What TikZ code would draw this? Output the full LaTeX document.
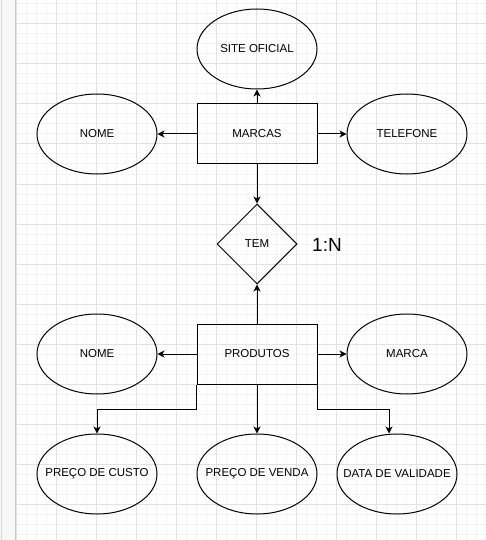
\documentclass[tikz,border=0pt]{standalone}
\usepackage{fontspec}
\setmainfont{Liberation Sans}
\usepackage{tikz}
\usetikzlibrary{shapes,arrows.meta}
\definecolor{gridminor}{HTML}{F4F4F4}
\definecolor{gridmajor}{HTML}{E2E2E2}
\tikzstyle{entity}=[rectangle,draw,line width=1pt,minimum width=120pt,minimum height=60pt,inner sep=0pt,font=\fontsize{11.5}{14}\selectfont]
\tikzstyle{attribute}=[ellipse,draw,line width=1pt,minimum width=120pt,minimum height=80pt,inner sep=0pt,font=\fontsize{11.5}{14}\selectfont]
\tikzstyle{relation}=[diamond,draw,line width=1pt,minimum width=80pt,minimum height=80pt,inner sep=0pt,font=\fontsize{11.5}{14}\selectfont]
\tikzstyle{link}=[-{Stealth[length=7pt,width=7pt,inset=2pt]},line width=1pt]

\begin{document}
\begin{tikzpicture}[x=1pt,y=-1pt]
    \useasboundingbox (0,0) rectangle (486,540);

% grid
\fill[white] (16,0) rectangle (486,540);
\foreach \x in {16.7,26.7,...,486}{
\draw[gridminor,line width=1pt] (\x,0) -- (\x,540);
}
\foreach \y in {4,14,...,540}{
\draw[gridminor,line width=1pt] (16,\y) -- (486,\y);
}
\foreach \x in {16.7,56.7,...,486}{
\draw[gridmajor,line width=1pt] (\x,0) -- (\x,540);
}
\foreach \y in {24,64,...,540}{
\draw[gridmajor,line width=1pt] (16,\y) -- (486,\y);
}
\fill[black!3] (0,0) rectangle (15,540);
\draw[black!15,line width=1pt] (1.5,0) -- (1.5,540);
\draw[black!22,line width=1pt] (15.5,0) -- (15.5,540);

    \node[entity] (marcas) at (257,134) {MARCAS};
    \node[attribute] (site) at (257,49) {SITE OFICIAL};
    \node[attribute] (nome1) at (97,134) {NOME};
    \node[attribute] (telefone) at (407,134) {TELEFONE};
    \node[relation] (tem) at (257,244) {TEM};
    \node (card) at (327,245) {\fontsize{19}{22}\selectfont 1:N};
    \node[entity] (produtos) at (257,354) {PRODUTOS};
    \node[attribute] (nome2) at (97,354) {NOME};
    \node[attribute] (marca) at (407,354) {MARCA};
    \node[attribute] (custo) at (97,474) {\makebox[0pt]{PREÇO DE CUSTO}};
    \node[attribute] (venda) at (257,474) {\makebox[0pt]{PREÇO DE VENDA}};
    \node[attribute] (validade) at (397,474) {\makebox[0pt]{DATA DE VALIDADE}};

\draw[link] (marcas.north) -- (site.south);
\draw[link] (marcas.west) -- (nome1.east);
\draw[link] (marcas.east) -- (telefone.west);
\draw[link] (marcas.south) -- (tem.north);
\draw[link] (produtos.north) -- (tem.south);
\draw[link] (produtos.west) -- (nome2.east);
\draw[link] (produtos.east) -- (marca.west);
\draw[link] (produtos.south west) -- ++(0,25) -| (custo.north);
\draw[link] (produtos.south) -- (venda.north);
\draw[link] (produtos.south east) -- ++(0,25) -| ([xshift=-8pt]validade.north);
\end{tikzpicture}
\end{document}
